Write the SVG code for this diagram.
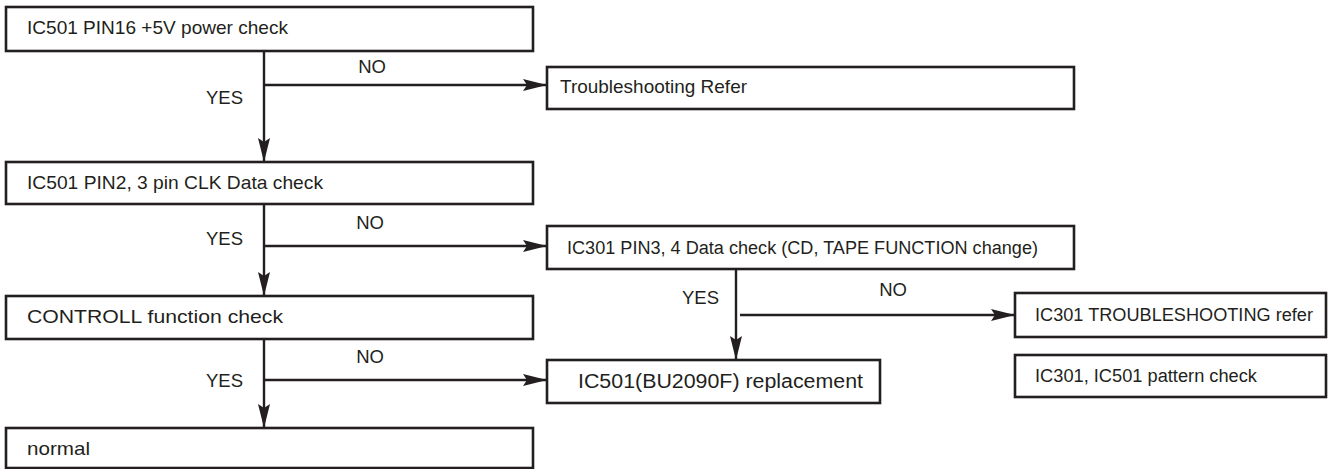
<svg xmlns="http://www.w3.org/2000/svg" width="1328" height="469" viewBox="0 0 1328 469">
  <style>
    .box { fill: #ffffff; stroke: #231f20; stroke-width: 2.6; }
    .t { font-family: "Liberation Sans", Arial, Helvetica, sans-serif; fill: #231f20; }
    .bt { font-size: 19px; }
    .lb { font-size: 18.5px; }
    .line { fill: none; stroke: #231f20; stroke-width: 2.4; }
  </style>
  <defs>
    <marker id="arrow" viewBox="0 0 24 12" refX="24" refY="6" markerWidth="24" markerHeight="12" markerUnits="userSpaceOnUse" orient="auto">
      <path d="M0,0 L24,6 L0,12 L4,6 z" fill="#231f20"/>
    </marker>
  </defs>
  <rect width="1328" height="469" fill="#ffffff"/>

  <g id="connectors">
    <line class="line" x1="264" y1="51" x2="264" y2="162" marker-end="url(#arrow)"/>
    <line class="line" x1="264" y1="85" x2="547" y2="85" marker-end="url(#arrow)"/>
    <line class="line" x1="264" y1="204" x2="264" y2="296" marker-end="url(#arrow)"/>
    <line class="line" x1="264" y1="246" x2="547" y2="246" marker-end="url(#arrow)"/>
    <line class="line" x1="264" y1="339" x2="264" y2="428" marker-end="url(#arrow)"/>
    <line class="line" x1="264" y1="380" x2="547" y2="380" marker-end="url(#arrow)"/>
    <line class="line" x1="736" y1="269" x2="736" y2="360" marker-end="url(#arrow)"/>
    <line class="line" x1="740" y1="315" x2="1015" y2="315" marker-end="url(#arrow)"/>
    <text class="t lb" x="372" y="73" text-anchor="middle">NO</text>
    <text class="t lb" x="243" y="104" text-anchor="end">YES</text>
    <text class="t lb" x="370" y="229" text-anchor="middle">NO</text>
    <text class="t lb" x="243" y="245" text-anchor="end">YES</text>
    <text class="t lb" x="370" y="363" text-anchor="middle">NO</text>
    <text class="t lb" x="243" y="387" text-anchor="end">YES</text>
    <text class="t lb" x="893" y="296" text-anchor="middle">NO</text>
    <text class="t lb" x="719" y="304" text-anchor="end">YES</text>
  </g>

  <g id="n-power">
    <rect class="box" x="6" y="7" width="527" height="44"/>
    <text class="t bt" x="27" y="34" textLength="261" lengthAdjust="spacingAndGlyphs">IC501 PIN16 +5V power check</text>
  </g>
  <g id="n-trouble">
    <rect class="box" x="547" y="67" width="527" height="42"/>
    <text class="t bt" x="560" y="93" textLength="187" lengthAdjust="spacingAndGlyphs">Troubleshooting Refer</text>
  </g>
  <g id="n-clk">
    <rect class="box" x="6" y="162" width="527" height="42"/>
    <text class="t bt" x="27" y="189" textLength="296" lengthAdjust="spacingAndGlyphs">IC501 PIN2, 3 pin CLK Data check</text>
  </g>
  <g id="n-ic301data">
    <rect class="box" x="547" y="226" width="527" height="43"/>
    <text class="t" font-size="18" x="567" y="254" textLength="471" lengthAdjust="spacingAndGlyphs">IC301 PIN3, 4 Data check (CD, TAPE FUNCTION change)</text>
  </g>
  <g id="n-control">
    <rect class="box" x="6" y="296" width="527" height="43"/>
    <text class="t bt" x="27" y="323" textLength="256" lengthAdjust="spacingAndGlyphs">CONTROLL function check</text>
  </g>
  <g id="n-ic301ts">
    <rect class="box" x="1015" y="293" width="311" height="44"/>
    <text class="t" font-size="18" x="1035" y="321" textLength="278" lengthAdjust="spacingAndGlyphs">IC301 TROUBLESHOOTING refer</text>
  </g>
  <g id="n-replace">
    <rect class="box" x="547" y="360" width="333" height="43"/>
    <text class="t" font-size="20" x="578" y="388" textLength="285" lengthAdjust="spacingAndGlyphs">IC501(BU2090F) replacement</text>
  </g>
  <g id="n-pattern">
    <rect class="box" x="1015" y="355" width="311" height="42"/>
    <text class="t" font-size="18" x="1035" y="382" textLength="222" lengthAdjust="spacingAndGlyphs">IC301, IC501 pattern check</text>
  </g>
  <g id="n-normal">
    <rect class="box" x="6" y="428" width="527" height="40"/>
    <text class="t bt" x="27" y="455" textLength="63" lengthAdjust="spacingAndGlyphs">normal</text>
  </g>
</svg>
